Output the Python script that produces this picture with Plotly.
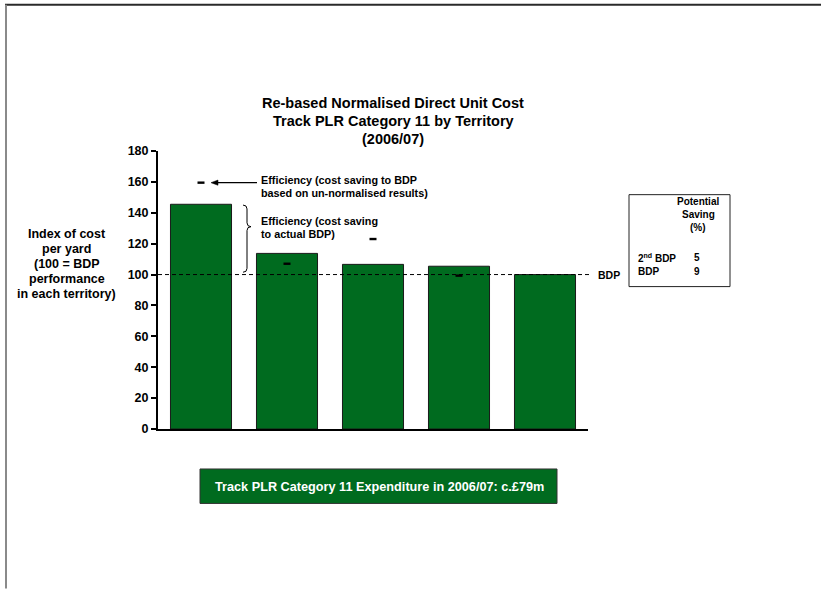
import plotly.graph_objects as go

# Index of cost per yard for each territory (100 = BDP performance)
territories = ["T1", "T2", "T3", "T4", "T5"]
cost_index = [145.5, 113.7, 106.6, 105.4, 100.0]
# Un-normalised comparison points shown as short dashes
unnormalised_index = [159.5, 107.0, 123.0, 99.3, None]
bdp_level = 100
y_ticks = [0, 20, 40, 60, 80, 100, 120, 140, 160, 180]

title_lines = ["Re-based Normalised Direct Unit Cost",
               "Track PLR Category 11 by Territory",
               "(2006/07)"]
ylabel_lines = ["Index of cost", "per yard", "(100 = BDP", "performance",
                "in each territory)"]
note_unnormalised = ["Efficiency (cost saving to BDP",
                     "based on un-normalised results)"]
note_actual = ["Efficiency (cost saving", "to actual BDP)"]
saving_header = ["Potential", "Saving", "(%)"]
saving_rows = ["2<sup>nd</sup> BDP", "BDP"]
saving_values = ["5", "9"]
expenditure_text = "Track PLR Category 11 Expenditure in 2006/07: c.£79m"

GREEN = "#006b1f"
FONT = "Liberation Sans, Arial, sans-serif"

W, H = 821, 589
PL, PR, PT, PB = 158, 588, 151.3, 429.5  # plot area in pixels


def fx(px):
    """page x pixel -> paper x"""
    return (px - PL) / (PR - PL)


def fy(py):
    """page y pixel -> paper y"""
    return (PB - py) / (PB - PT)


UNIT = (PB - PT) / 180.0  # pixels per index point

x_pos = list(range(len(territories)))

fig = go.Figure()
fig.add_trace(go.Bar(
    x=x_pos, y=cost_index, width=0.71,
    marker=dict(color=GREEN, line=dict(color="#1a1a1a", width=1)),
    hoverinfo="y", showlegend=False,
))
fig.add_trace(go.Scatter(
    x=x_pos, y=unnormalised_index, mode="markers",
    marker=dict(symbol="line-ew", size=5, line=dict(color="black", width=2.4)),
    showlegend=False, hoverinfo="y",
))

shapes = []
# BDP reference line
shapes.append(dict(type="line", xref="paper", yref="y", x0=0, x1=fx(591),
                   y0=bdp_level, y1=bdp_level,
                   line=dict(color="black", width=1, dash="4px,3px")))
# arrow pointing at the un-normalised dash of the first territory
ya = unnormalised_index[0]
shapes.append(dict(type="line", xref="paper", yref="y", x0=fx(216), x1=fx(257),
                   y0=ya, y1=ya, line=dict(color="black", width=1.2)))
shapes.append(dict(type="path", xref="paper", yref="y",
                   path=f"M{fx(211)},{ya} L{fx(218)},{ya + 2.6 / UNIT} L{fx(218)},{ya - 2.6 / UNIT} Z",
                   fillcolor="black", line=dict(color="black", width=0.5)))
# brace spanning from the first bar down to BDP
xl, xm, xt = fx(243), fx(247), fx(251)
yt, yb, ym = cost_index[0] - 0.5, bdp_level + 1.5, 131
d = 2.5
path = (f"M{xl},{yt} Q{xm},{yt} {xm},{yt - d} L{xm},{ym + d} "
        f"Q{xm},{ym} {xt},{ym} Q{xm},{ym} {xm},{ym - d} "
        f"L{xm},{yb + d} Q{xm},{yb} {xl},{yb}")
shapes.append(dict(type="path", xref="paper", yref="y", path=path,
                   line=dict(color="black", width=1)))
# potential saving box
shapes.append(dict(type="rect", xref="paper", yref="paper",
                   x0=fx(629), x1=fx(730), y0=fy(287), y1=fy(195),
                   line=dict(color="#222", width=1), fillcolor="white"))
# expenditure box
shapes.append(dict(type="rect", xref="paper", yref="paper",
                   x0=fx(200), x1=fx(557), y0=fy(504), y1=fy(469.5),
                   line=dict(color="#333", width=1), fillcolor=GREEN))
# page frame
shapes.append(dict(type="line", xref="paper", yref="paper",
                   x0=fx(5), x1=fx(821), y0=fy(5), y1=fy(5),
                   line=dict(color="#2a2a2a", width=2)))
shapes.append(dict(type="line", xref="paper", yref="paper",
                   x0=fx(6), x1=fx(6), y0=fy(5), y1=fy(589),
                   line=dict(color="#8a8a8a", width=2)))

ann = []


def label(text, px, py, size, xanchor="center", color="black"):
    ann.append(dict(xref="paper", yref="paper", x=fx(px), y=fy(py),
                    text=f"<b>{text}</b>", showarrow=False,
                    xanchor=xanchor, yanchor="middle",
                    font=dict(size=size, family=FONT, color=color)))


for i, line in enumerate(title_lines):
    label(line, 393, 103 + 18 * i, 14.5)
for i, line in enumerate(ylabel_lines):
    label(line, 66.5, 234 + 15.2 * i, 12.5)
for i, line in enumerate(note_unnormalised):
    label(line, 259, 180.5 + 12.5 * i, 10.8, xanchor="left")
for i, line in enumerate(note_actual):
    label(line, 259, 221 + 13 * i, 10.8, xanchor="left")
ann.append(dict(xref="paper", yref="y", x=fx(596), y=bdp_level,
                text="<b>BDP</b>", showarrow=False, xanchor="left", yanchor="middle",
                font=dict(size=10.5, family=FONT, color="black")))
for i, line in enumerate(saving_header):
    label(line, 698, 201.5 + 13 * i, 10)
for i, (lab, val) in enumerate(zip(saving_rows, saving_values)):
    label(lab, 636, 258 + 14 * i, 10, xanchor="left")
    label(val, 697, 258 + 14 * i, 10)
label(expenditure_text, 379, 487.5, 12.7, color="white")

fig.update_layout(
    width=W, height=H,
    margin=dict(l=PL, r=W - PR, t=PT, b=H - PB),
    paper_bgcolor="white", plot_bgcolor="white",
    shapes=shapes, annotations=ann,
    xaxis=dict(range=[-0.5, len(territories) - 0.5], showticklabels=False,
               ticks="", showgrid=False, zeroline=False,
               showline=True, linecolor="black", linewidth=2, fixedrange=True),
    yaxis=dict(range=[0, 180], tickvals=y_ticks,
               ticktext=[f"<b>{v}</b>" for v in y_ticks],
               ticks="outside", ticklen=5, tickwidth=2, tickcolor="black",
               showgrid=False, zeroline=False, showline=True,
               linecolor="black", linewidth=2,
               tickfont=dict(size=12.5, family=FONT, color="black"), fixedrange=True),
)

fig.write_html("out.html")
